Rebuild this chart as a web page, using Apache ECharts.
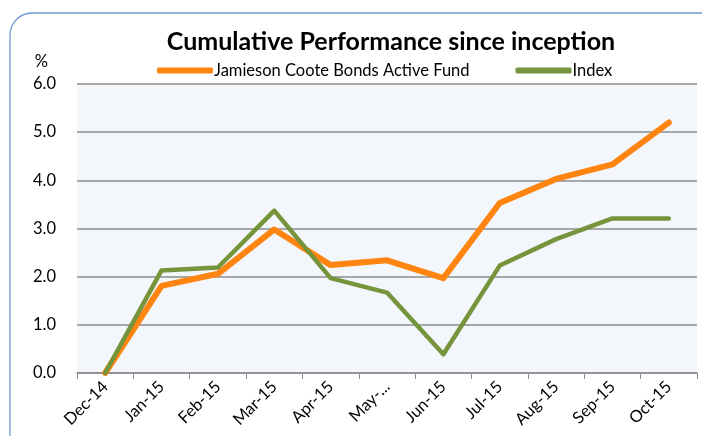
<!DOCTYPE html>
<html>
<head>
<meta charset="utf-8">
<script src="https://cdn.jsdelivr.net/npm/echarts@6/dist/echarts.min.js"></script>
<style>
    html, body { margin: 0; padding: 0; background: #fff; }
    #chart { width: 702px; height: 436px; }
</style>
</head>
<body>
<div id="chart"></div>
<script>
// 数据
const months = ['Dec-14', 'Jan-15', 'Feb-15', 'Mar-15', 'Apr-15', 'May-...', 'Jun-15', 'Jul-15', 'Aug-15', 'Sep-15', 'Oct-15']
const fundValues = [0, 1.81, 2.06, 2.98, 2.24, 2.34, 1.97, 3.53, 4.03, 4.33, 5.2]
const indexValues = [0, 2.13, 2.19, 3.37, 1.97, 1.67, 0.39, 2.23, 2.78, 3.21, 3.21]
const seriesNames = ['Jamieson Coote Bonds Active Fund', 'Index']

;(function () {
    const mychart = echarts.init(document.getElementById('chart'))
    const font = 'Lato, "Open Sans", sans-serif'

    let option = {
        animation: false,
        title: {
            text: 'Cumulative Performance since inception',
            left: 386,
            textAlign: 'center',
            top: 24,
            textStyle: { fontFamily: font, fontSize: 25, fontWeight: 'bold', color: '#000' },
        },
        legend: {
            top: 57,
            left: 152,
            itemGap: 46,
            itemWidth: 56,
            itemHeight: 6,
            icon: 'roundRect',
            data: seriesNames,
            textStyle: { fontFamily: font, fontSize: 16.5, color: '#000', padding: [0, 0, 0, -4] },
        },
        grid: {
            left: 77,
            right: 5,
            top: 84,
            bottom: 63,
            show: true,
            backgroundColor: '#f3f6fb',
            borderWidth: 0,
        },
        xAxis: {
            type: 'category',
            data: months,
            boundaryGap: true,
            axisLine: { lineStyle: { color: '#8c8c8c', width: 1.5 } },
            axisTick: { show: true, length: 6, lineStyle: { color: '#8c8c8c' } },
            axisLabel: { rotate: 45, interval: 0, color: '#000', fontFamily: font, fontSize: 16.5, margin: 11 },
        },
        yAxis: {
            type: 'value',
            min: 0,
            max: 6,
            interval: 1,
            name: '%',
            nameLocation: 'end',
            nameGap: 14,
            nameTextStyle: { color: '#000', fontFamily: font, fontSize: 16.5, align: 'right', padding: [0, 29, 0, 0] },
            axisLine: { show: false },
            axisTick: { show: false },
            splitLine: { lineStyle: { color: '#8c8c8c', width: 1.5 } },
            axisLabel: {
                color: '#000',
                fontFamily: font,
                fontSize: 16.5,
                margin: 21,
                formatter: (v) => v.toFixed(1),
            },
        },
        series: [
            {
                name: seriesNames[0],
                type: 'line',
                data: fundValues,
                symbol: 'none',
                z: 3,
                lineStyle: { color: '#ff8410', width: 6, cap: 'round', join: 'round' },
                itemStyle: { color: '#ff8410' },
            },
            {
                name: seriesNames[1],
                type: 'line',
                data: indexValues,
                symbol: 'none',
                z: 4,
                lineStyle: { color: '#76943c', width: 4.5, cap: 'round', join: 'round' },
                itemStyle: { color: '#76943c' },
            },
        ],
        // 外框圆角
        graphic: [
            {
                type: 'rect',
                silent: true,
                z: -1,
                shape: { x: 10, y: 13, width: 720, height: 460, r: 22 },
                style: { fill: 'none', stroke: '#6f98d0', lineWidth: 1.3 },
            },
        ],
    }

    mychart.setOption(option)
})()
</script>
</body>
</html>
